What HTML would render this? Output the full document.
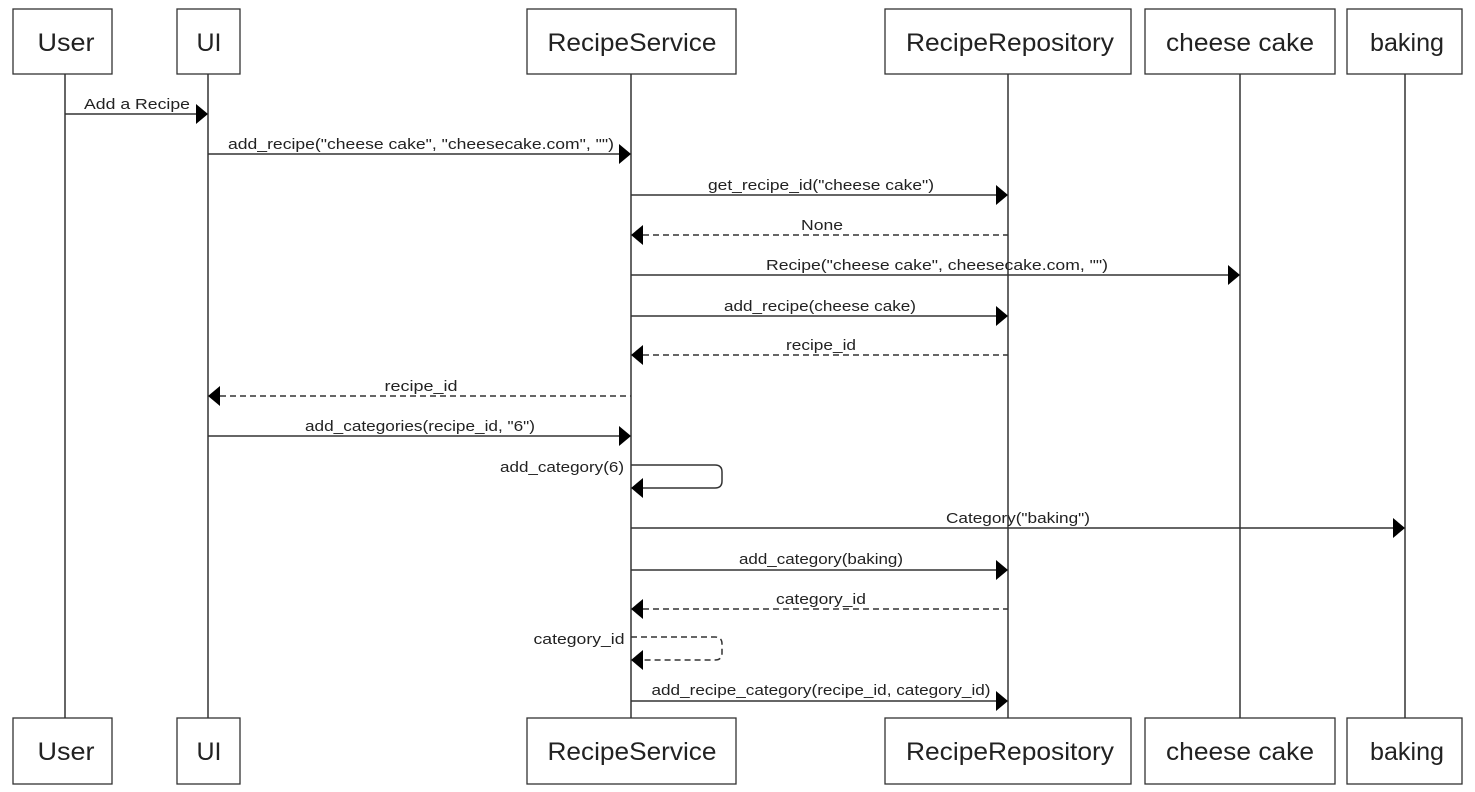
<!DOCTYPE html>
<html><head><style>
html,body{margin:0;padding:0;background:#fff;}
svg{display:block;}
text{font-family:"Liberation Sans",Arial,sans-serif;fill:#222;}
.b{font-size:25px;text-anchor:middle;}
.l{font-size:15px;text-anchor:middle;}
</style></head><body>
<svg width="1475" height="792" viewBox="0 0 1475 792" xmlns="http://www.w3.org/2000/svg">
<g stroke="#333" stroke-width="1.5" fill="none">
<line x1="65" y1="74" x2="65" y2="718"/>
<line x1="208" y1="74" x2="208" y2="718"/>
<line x1="631" y1="74" x2="631" y2="718"/>
<line x1="1008" y1="74" x2="1008" y2="718"/>
<line x1="1240" y1="74" x2="1240" y2="718"/>
<line x1="1405" y1="74" x2="1405" y2="718"/>
</g>
<g stroke="#333" stroke-width="1.3" fill="#fff">
<rect x="13" y="9" width="99" height="65"/><rect x="177" y="9" width="63" height="65"/>
<rect x="527" y="9" width="209" height="65"/><rect x="885" y="9" width="246" height="65"/>
<rect x="1145" y="9" width="190" height="65"/><rect x="1347" y="9" width="115" height="65"/>
<rect x="13" y="718" width="99" height="66"/><rect x="177" y="718" width="63" height="66"/>
<rect x="527" y="718" width="209" height="66"/><rect x="885" y="718" width="246" height="66"/>
<rect x="1145" y="718" width="190" height="66"/><rect x="1347" y="718" width="115" height="66"/>
</g>
<g>
<text class="b" x="66" y="51" textLength="57" lengthAdjust="spacingAndGlyphs">User</text>
<text class="b" x="209" y="51">UI</text>
<text class="b" x="632" y="51" textLength="169" lengthAdjust="spacingAndGlyphs">RecipeService</text>
<text class="b" x="1010" y="51" textLength="208" lengthAdjust="spacingAndGlyphs">RecipeRepository</text>
<text class="b" x="1240" y="51" textLength="148" lengthAdjust="spacingAndGlyphs">cheese cake</text>
<text class="b" x="1407" y="51" textLength="74" lengthAdjust="spacingAndGlyphs">baking</text>
<text class="b" x="66" y="760" textLength="57" lengthAdjust="spacingAndGlyphs">User</text>
<text class="b" x="209" y="760">UI</text>
<text class="b" x="632" y="760" textLength="169" lengthAdjust="spacingAndGlyphs">RecipeService</text>
<text class="b" x="1010" y="760" textLength="208" lengthAdjust="spacingAndGlyphs">RecipeRepository</text>
<text class="b" x="1240" y="760" textLength="148" lengthAdjust="spacingAndGlyphs">cheese cake</text>
<text class="b" x="1407" y="760" textLength="74" lengthAdjust="spacingAndGlyphs">baking</text>
</g>
<g stroke="#333" stroke-width="1.5" fill="none">
<line x1="65" y1="114" x2="196" y2="114"/>
<line x1="208" y1="154" x2="619" y2="154"/>
<line x1="631" y1="195" x2="996" y2="195"/>
<line x1="643" y1="235" x2="1008" y2="235" stroke-dasharray="6,4"/>
<line x1="631" y1="275" x2="1228" y2="275"/>
<line x1="631" y1="316" x2="996" y2="316"/>
<line x1="643" y1="355" x2="1008" y2="355" stroke-dasharray="6,4"/>
<line x1="220" y1="396" x2="631" y2="396" stroke-dasharray="6,4"/>
<line x1="208" y1="436" x2="619" y2="436"/>
<path d="M631 465 H715 Q722 465 722 472 V481 Q722 488 715 488 H643"/>
<line x1="631" y1="528" x2="1393" y2="528"/>
<line x1="631" y1="570" x2="996" y2="570"/>
<line x1="643" y1="609" x2="1008" y2="609" stroke-dasharray="6,4"/>
<path d="M631 637 H715 Q722 637 722 644 V653 Q722 660 715 660 H643" stroke-dasharray="6,4"/>
<line x1="631" y1="701" x2="996" y2="701"/>
</g>
<g fill="#000">
<path d="M196 104 L208 114 L196 124Z"/>
<path d="M619 144 L631 154 L619 164Z"/>
<path d="M996 185 L1008 195 L996 205Z"/>
<path d="M643 225 L631 235 L643 245Z"/>
<path d="M1228 265 L1240 275 L1228 285Z"/>
<path d="M996 306 L1008 316 L996 326Z"/>
<path d="M643 345 L631 355 L643 365Z"/>
<path d="M220 386 L208 396 L220 406Z"/>
<path d="M619 426 L631 436 L619 446Z"/>
<path d="M643 478 L631 488 L643 498Z"/>
<path d="M1393 518 L1405 528 L1393 538Z"/>
<path d="M996 560 L1008 570 L996 580Z"/>
<path d="M643 599 L631 609 L643 619Z"/>
<path d="M643 650 L631 660 L643 670Z"/>
<path d="M996 691 L1008 701 L996 711Z"/>
</g>
<g>
<text class="l" x="137" y="109" textLength="106" lengthAdjust="spacingAndGlyphs">Add a Recipe</text>
<text class="l" x="421" y="149" textLength="386" lengthAdjust="spacingAndGlyphs">add_recipe("cheese cake", "cheesecake.com", "")</text>
<text class="l" x="821" y="190" textLength="226" lengthAdjust="spacingAndGlyphs">get_recipe_id("cheese cake")</text>
<text class="l" x="822" y="230" textLength="42" lengthAdjust="spacingAndGlyphs">None</text>
<text class="l" x="937" y="270" textLength="342" lengthAdjust="spacingAndGlyphs">Recipe("cheese cake", cheesecake.com, "")</text>
<text class="l" x="820" y="311" textLength="192" lengthAdjust="spacingAndGlyphs">add_recipe(cheese cake)</text>
<text class="l" x="821" y="350" textLength="70" lengthAdjust="spacingAndGlyphs">recipe_id</text>
<text class="l" x="421" y="391" textLength="73" lengthAdjust="spacingAndGlyphs">recipe_id</text>
<text class="l" x="420" y="431" textLength="230" lengthAdjust="spacingAndGlyphs">add_categories(recipe_id, "6")</text>
<text class="l" x="562" y="472" textLength="124" lengthAdjust="spacingAndGlyphs">add_category(6)</text>
<text class="l" x="1018" y="523" textLength="144" lengthAdjust="spacingAndGlyphs">Category("baking")</text>
<text class="l" x="821" y="564" textLength="164" lengthAdjust="spacingAndGlyphs">add_category(baking)</text>
<text class="l" x="821" y="604" textLength="90" lengthAdjust="spacingAndGlyphs">category_id</text>
<text class="l" x="579" y="644" textLength="91" lengthAdjust="spacingAndGlyphs">category_id</text>
<text class="l" x="821" y="695" textLength="339" lengthAdjust="spacingAndGlyphs">add_recipe_category(recipe_id, category_id)</text>
</g>
</svg>
</body></html>
